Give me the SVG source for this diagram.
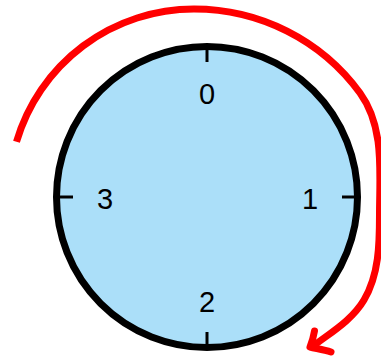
<svg xmlns="http://www.w3.org/2000/svg" width="381" height="357" viewBox="0 0 381 357">
  <style>
    .lbl { font-family: "Liberation Sans", "DejaVu Sans", sans-serif; font-size: 29px; fill: #000; text-anchor: middle; }
    .tick { stroke: #000; stroke-width: 3; fill: none; }
    .red { stroke: #ff0000; stroke-width: 7; fill: none; }
  </style>
  <rect width="381" height="357" fill="#ffffff"/>
  <g id="dial">
    <circle cx="207" cy="197" r="150.5" fill="#abdff9" stroke="#000" stroke-width="7"/>
    <line class="tick" x1="207" y1="50" x2="207" y2="62"/>
    <line class="tick" x1="354" y1="197" x2="342" y2="197"/>
    <line class="tick" x1="207" y1="344" x2="207" y2="332"/>
    <line class="tick" x1="60" y1="197" x2="73" y2="197"/>
  </g>
  <g id="label-0"><text class="lbl" x="207" y="104">0</text></g>
  <g id="label-1"><text class="lbl" x="310" y="209">1</text></g>
  <g id="label-2"><text class="lbl" x="207" y="312">2</text></g>
  <g id="label-3"><text class="lbl" x="105" y="209">3</text></g>
  <g id="connectors">
    <path class="red" stroke-linecap="butt" d="M16.5,141.8 A185,185 0 0 1 194,9 C259.5,9 321.4,40 360,93 C384.9,127.2 379.5,172.8 379.5,215 C379.5,244.4 379,274.7 364,300 C352,320.3 330.6,332.6 313,346.2"/>
    <path class="red" stroke-width="6.5" stroke-linecap="round" stroke-linejoin="round" d="M314.5,331 C313.5,337 312,342 310,347 C316,348.5 324,349.5 331,352"/>
  </g>
</svg>
